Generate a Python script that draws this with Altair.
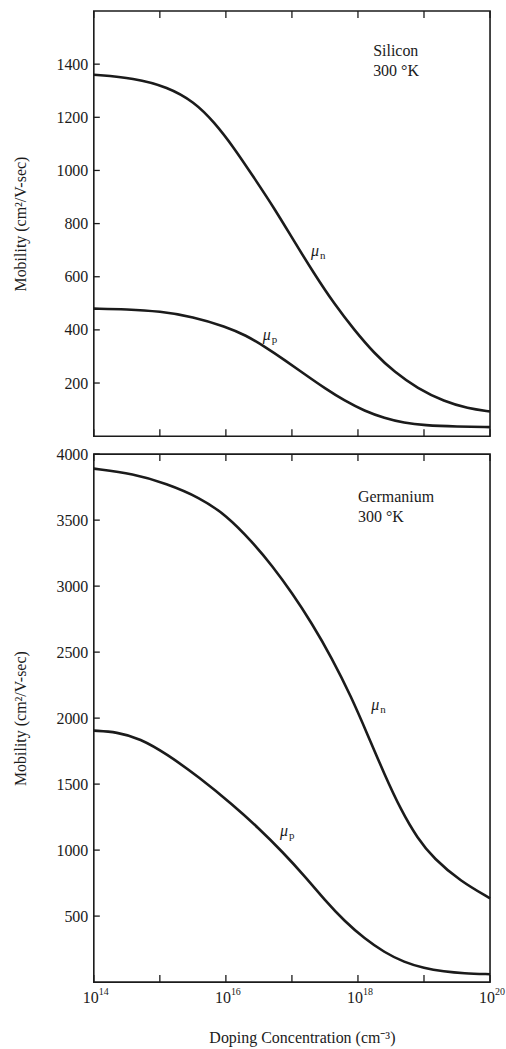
import altair as alt
import pandas as pd

# ---------------- data ----------------
# log10 of doping concentration (cm^-3) and mobility (cm^2/V-sec)
si_n_logN = [14.0, 14.61, 15.12, 15.52, 15.82, 16.13, 16.43, 16.73, 17.03, 17.34, 17.64, 17.95, 18.25, 18.55, 18.90, 19.31, 19.66, 20.0]
si_n_mu = [1360, 1348, 1314, 1258, 1183, 1083, 971, 859, 735, 610, 498, 398, 311, 242, 180, 130, 105, 93]

si_p_logN = [14.0, 14.5, 15.0, 15.5, 16.0, 16.3, 16.6, 16.9, 17.2, 17.5, 17.8, 18.1, 18.4, 18.7, 19.0, 19.5, 20.0]
si_p_mu = [480, 478, 470, 450, 412, 380, 335, 285, 232, 180, 133, 95, 68, 50, 41, 36, 34]

ge_n_logN = [14.0, 14.6, 15.1, 15.6, 16.0, 16.4, 16.7, 17.0, 17.3, 17.6, 17.9, 18.15, 18.4, 18.65, 18.9, 19.15, 19.55, 20.0]
ge_n_mu = [3890, 3851, 3777, 3672, 3540, 3335, 3155, 2950, 2720, 2460, 2160, 1870, 1575, 1305, 1090, 935, 765, 635]

ge_p_logN = [14.0, 14.35, 14.7, 15.1, 15.6, 16.1, 16.5, 16.85, 17.2, 17.5, 17.8, 18.1, 18.4, 18.7, 19.0, 19.3, 19.6, 20.0]
ge_p_mu = [1905, 1895, 1845, 1730, 1550, 1345, 1165, 990, 800, 620, 460, 330, 225, 150, 105, 80, 66, 60]

decades = [14, 15, 16, 17, 18, 19, 20]
x_label_decades = [14, 16, 18, 20]

si_yticks = [200, 400, 600, 800, 1000, 1200, 1400]
ge_yticks = [500, 1000, 1500, 2000, 2500, 3000, 3500, 4000]
si_ydomain = [0, 1600]
ge_ydomain = [0, 4000]

# curve labels: (log10 N, mobility, subscript)
si_curve_lab_logN = [17.29, 16.56]
si_curve_lab_mu = [697, 379]
ge_curve_lab_logN = [18.20, 16.82]
ge_curve_lab_mu = [2096, 1148]
curve_lab_sub = ["n", "p"]

# material notes: (log10 N, mobility, text)
si_note_logN = [18.23, 18.23]
si_note_mu = [1448, 1376]
ge_note_logN = [18.0, 18.0]
ge_note_mu = [3675, 3520]
note_text_si = ["Silicon", "300 °K"]
note_text_ge = ["Germanium", "300 °K"]

# ---------------- styling ----------------
FONT = "Liberation Serif"
INK = "#1b1b1b"
W = 397
H_SI = 426
H_GE = 529
TICK = 7


def curves_df(nx, ny, px, py):
    rows = []
    for lx, m in zip(nx, ny):
        rows.append({"N": 10 ** lx, "mu": m, "carrier": "n"})
    for lx, m in zip(px, py):
        rows.append({"N": 10 ** lx, "mu": m, "carrier": "p"})
    return pd.DataFrame(rows)


def panel(df, ydomain, yticks, H, lab_logN, lab_mu, note_logN, note_mu, note_text, bottom):
    xscale = alt.Scale(type="log", domain=[1e14, 1e20], nice=False)
    yscale = alt.Scale(domain=ydomain, nice=False, zero=False)
    if bottom:
        xaxis = alt.Axis(labels=False, ticks=False, domain=False, grid=False,
                         title="Doping Concentration (cm⁻³)", titleFont=FONT,
                         titleFontSize=16, titleFontWeight="normal", titleColor=INK,
                         titlePadding=48, titleX=W / 2 + 10)
    else:
        xaxis = None
    yaxis = alt.Axis(values=yticks, format="d", ticks=False, domain=False, grid=False,
                     labelFont=FONT, labelFontSize=16, labelColor=INK, labelPadding=6,
                     title="Mobility (cm²/V-sec)", titleFont=FONT, titleFontSize=16,
                     titleFontWeight="normal", titleColor=INK, titlePadding=27)
    X = alt.X("N:Q", scale=xscale, axis=xaxis)
    Y = alt.Y("mu:Q", scale=yscale, axis=yaxis)

    lines = alt.Chart(df).mark_line(interpolate="basis", strokeWidth=2.6, color=INK).encode(
        x=X, y=Y, detail="carrier:N")

    dec_df = pd.DataFrame({"N": [10 ** d for d in decades]})
    xt_bot = alt.Chart(dec_df).mark_rule(color=INK, strokeWidth=1.3).encode(
        x=X, y=alt.value(H), y2=alt.value(H - TICK))
    xt_top = alt.Chart(dec_df).mark_rule(color=INK, strokeWidth=1.3).encode(
        x=X, y=alt.value(0), y2=alt.value(TICK))
    yt_df = pd.DataFrame({"mu": yticks})
    yt = alt.Chart(yt_df).mark_rule(color=INK, strokeWidth=1.3).encode(
        y=Y, x=alt.value(0), x2=alt.value(6))

    lab_df = pd.DataFrame({"N": [10 ** v for v in lab_logN], "mu": lab_mu,
                           "mu_txt": ["μ", "μ"], "sub": curve_lab_sub})
    mu_txt = alt.Chart(lab_df).mark_text(align="left", baseline="middle", font=FONT,
                                         fontSize=16, fontStyle="italic", color=INK).encode(
        x=X, y=Y, text="mu_txt:N")
    mu_sub = alt.Chart(lab_df).mark_text(align="left", baseline="middle", font=FONT,
                                         fontSize=11, dx=9, dy=5, color=INK).encode(
        x=X, y=Y, text="sub:N")

    note_df = pd.DataFrame({"N": [10 ** v for v in note_logN], "mu": note_mu, "t": note_text})
    notes = alt.Chart(note_df).mark_text(align="left", baseline="middle", font=FONT,
                                         fontSize=16, color=INK).encode(
        x=X, y=Y, text="t:N")

    layers = [lines, xt_bot, xt_top, yt, mu_txt, mu_sub, notes]

    if bottom:
        xl_df = pd.DataFrame({"N": [10 ** d for d in x_label_decades],
                              "base": ["10"] * len(x_label_decades),
                              "exp": [str(d) for d in x_label_decades]})
        base_t = alt.Chart(xl_df).mark_text(align="center", baseline="alphabetic", font=FONT,
                                            fontSize=16, dx=-3, color=INK).encode(
            x=X, y=alt.value(H + 21), text="base:N")
        exp_t = alt.Chart(xl_df).mark_text(align="left", baseline="alphabetic", font=FONT,
                                           fontSize=10, dx=5, dy=-8, color=INK).encode(
            x=X, y=alt.value(H + 21), text="exp:N")
        layers += [base_t, exp_t]

    return alt.layer(*layers).properties(width=W, height=H)


si_df = curves_df(si_n_logN, si_n_mu, si_p_logN, si_p_mu)
ge_df = curves_df(ge_n_logN, ge_n_mu, ge_p_logN, ge_p_mu)

top = panel(si_df, si_ydomain, si_yticks, H_SI, si_curve_lab_logN, si_curve_lab_mu,
            si_note_logN, si_note_mu, note_text_si, False)
bot = panel(ge_df, ge_ydomain, ge_yticks, H_GE, ge_curve_lab_logN, ge_curve_lab_mu,
            ge_note_logN, ge_note_mu, note_text_ge, True)

chart = alt.vconcat(top, bot, spacing=7).properties(
    padding={"left": 12, "top": 8, "right": 0, "bottom": 0},
    background="white",
).configure_view(stroke=INK, strokeWidth=1.6)

chart.save("out.html", embed_options={"renderer": "svg", "actions": False})
